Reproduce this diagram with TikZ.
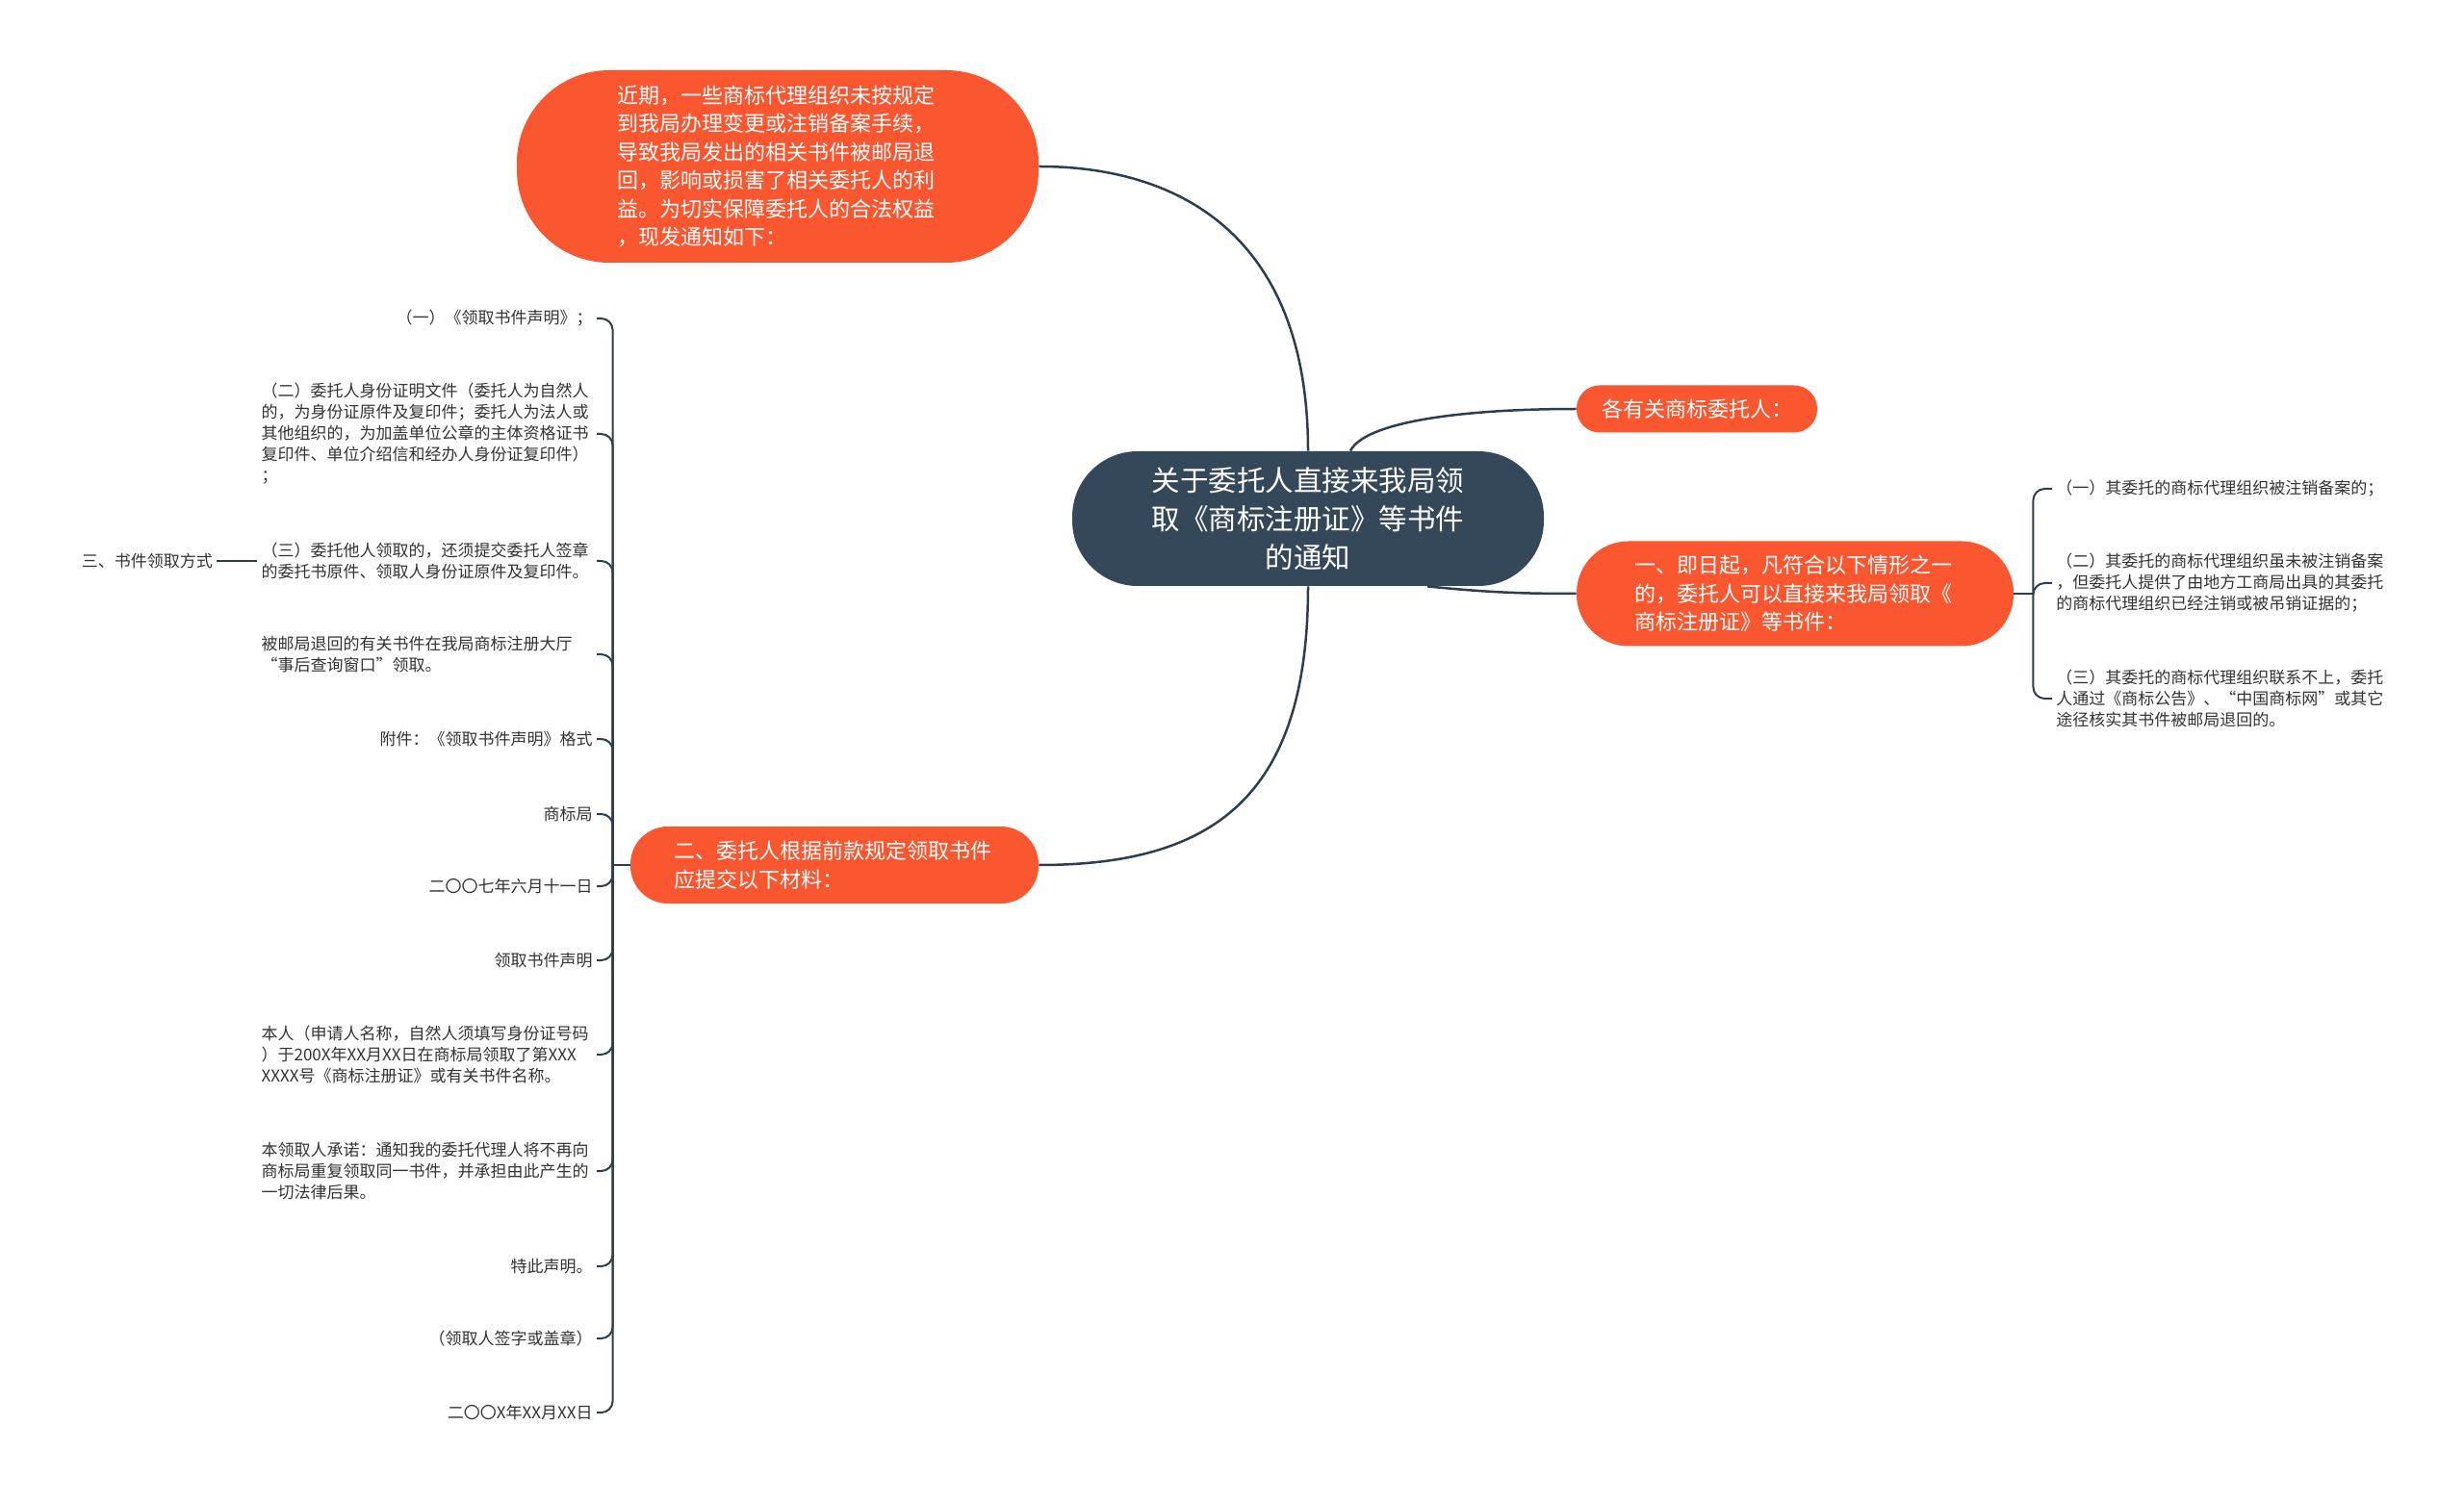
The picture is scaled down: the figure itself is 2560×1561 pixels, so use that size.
\documentclass[tikz,border=0pt]{standalone}
\usepackage{fontspec}
\setmainfont{Noto Sans CJK SC}
\usetikzlibrary{positioning}
\definecolor{mapred}{HTML}{FA5630}
\definecolor{mapslate}{HTML}{35485A}
\definecolor{mapline}{HTML}{2C3E50}
\definecolor{maptext}{HTML}{333333}
\begin{document}
\begin{tikzpicture}[x=0.5pt,y=-0.5pt,
    root/.style={fill=mapslate, text=white, rounded corners=34pt, minimum width=245pt,
      minimum height=70pt, align=center, font=\fontsize{14.75}{20}\selectfont},
    topic/.style={fill=mapred, text=white, align=left, font=\fontsize{11}{14.75}\selectfont},
    leaf/.style={text=maptext, align=left, inner xsep=2pt, inner ysep=1pt,
      font=\fontsize{8.5}{11}\selectfont},
    leafblock/.style={leaf, text width=172pt},
    link/.style={draw=mapline, line width=1.25pt},
    twig/.style={draw=mapline, line width=1pt, rounded corners=6pt}]
  \useasboundingbox[fill=white] (0,0) rectangle (2560,1561);

  \node[root] (ctr) at (1359,539) {关于委托人直接来我局领\\取《商标注册证》等书件\\的通知};
  \node[topic, rounded corners=48pt, minimum width=271pt, minimum height=100pt, text width=167pt]
    (intro) at (808,173) {近期，一些商标代理组织未按规定\\到我局办理变更或注销备案手续，\\导致我局发出的相关书件被邮局退\\回，影响或损害了相关委托人的利\\益。为切实保障委托人的合法权益\\，现发通知如下：};
  \node[topic, rounded corners=12pt, minimum width=125pt, minimum height=24.5pt]
    (dear) at (1763,425) {各有关商标委托人：};
  \node[topic, rounded corners=27pt, minimum width=227pt, minimum height=54.5pt, text width=167pt]
    (rule1) at (1865,617) {一、即日起，凡符合以下情形之一\\的，委托人可以直接来我局领取《\\商标注册证》等书件：};
  \node[topic, rounded corners=19.5pt, minimum width=212pt, minimum height=40pt, text width=167pt]
    (rule2) at (867,899) {二、委托人根据前款规定领取书件\\应提交以下材料：};

  \node[leaf, anchor=west] (r1) at (2132,508) {（一）其委托的商标代理组织被注销备案的；};
  \node[leafblock, anchor=west] (r2) at (2132,606) {（二）其委托的商标代理组织虽未被注销备案\\，但委托人提供了由地方工商局出具的其委托\\的商标代理组织已经注销或被吊销证据的；};
  \node[leafblock, anchor=west] (r3) at (2132,726) {（三）其委托的商标代理组织联系不上，委托\\人通过《商标公告》、“中国商标网”或其它\\途径核实其书件被邮局退回的。};

  \node[leaf, anchor=east] (l1) at (620,331) {（一）《领取书件声明》；};
  \node[leafblock, anchor=east] (l2) at (620,451) {（二）委托人身份证明文件（委托人为自然人\\的，为身份证原件及复印件；委托人为法人或\\其他组织的，为加盖单位公章的主体资格证书\\复印件、单位介绍信和经办人身份证复印件）\\；};
  \node[leafblock, anchor=east] (l3) at (620,583) {（三）委托他人领取的，还须提交委托人签章\\的委托书原件、领取人身份证原件及复印件。};
  \node[leafblock, anchor=east] (l4) at (620,680) {被邮局退回的有关书件在我局商标注册大厅\\“事后查询窗口”领取。};
  \node[leaf, anchor=east] (l5) at (620,768) {附件：《领取书件声明》格式};
  \node[leaf, anchor=east] (l6) at (620,846) {商标局};
  \node[leaf, anchor=east] (l7) at (620,921) {二〇〇七年六月十一日};
  \node[leaf, anchor=east] (l8) at (620,998) {领取书件声明};
  \node[leafblock, anchor=east] (l9) at (620,1096) {本人（申请人名称，自然人须填写身份证号码\\）于200X年XX月XX日在商标局领取了第XXX\\XXXX号《商标注册证》或有关书件名称。};
  \node[leafblock, anchor=east] (l10) at (620,1217) {本领取人承诺：通知我的委托代理人将不再向\\商标局重复领取同一书件，并承担由此产生的\\一切法律后果。};
  \node[leaf, anchor=east] (l11) at (620,1316) {特此声明。};
  \node[leaf, anchor=east] (l12) at (620,1391) {（领取人签字或盖章）};
  \node[leaf, anchor=east] (l13) at (620,1468) {二〇〇X年XX月XX日};
  \node[leaf, left=21pt of l3] (way) {三、书件领取方式};

  \draw[link] (ctr.north) .. controls +(0,-220) and +(150,0) .. (intro.east);
  \draw[link] ([xshift=22pt]ctr.north) .. controls +(15,-30) and +(-120,0) .. (dear.west);
  \draw[link] ([xshift=62pt]ctr.south) .. controls +(60,6) and +(-60,0) .. (rule1.west);
  \draw[link] (ctr.south) .. controls +(0,220) and +(180,0) .. (rule2.east);

  \coordinate (jR) at ([xshift=10pt]rule1.east);
  \coordinate (jL) at ([xshift=-9pt]rule2.west);
  \draw[twig] (rule1.east) -- (jR);
  \foreach \n in {1,2,3}
    \draw[twig] (jR) |- (r\n.west);
  \draw[twig] (rule2.west) -- (jL);
  \foreach \n in {1,...,13}
    \draw[twig] (jL) |- (l\n.east);
  \draw[twig] (l3.west) -- (way.east);
\end{tikzpicture}
\end{document}
